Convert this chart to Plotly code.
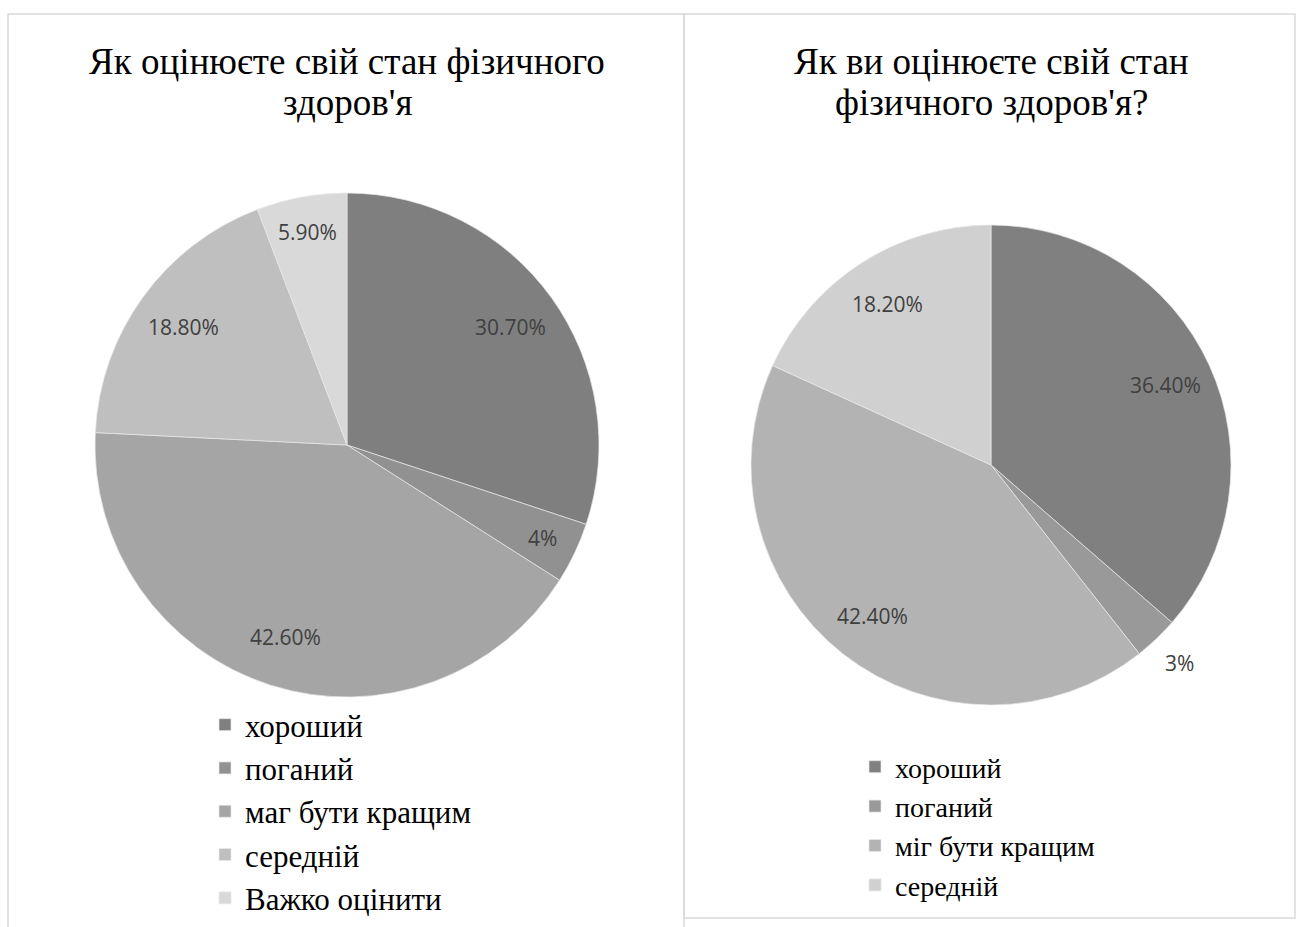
import math
import plotly.graph_objects as go

# ---- data ----
left_title = ["Як оцінюєте свій стан фізичного", "здоров'я"]
left_labels = ["хороший", "поганий", "маг бути кращим", "середній", "Важко оцінити"]
left_values = [30.7, 4.0, 42.6, 18.8, 5.9]
left_text = ["30.70%", "4%", "42.60%", "18.80%", "5.90%"]
left_colors = ["#7f7f7f", "#919191", "#a5a5a5", "#bfbfbf", "#d9d9d9"]

right_title = ["Як ви оцінюєте свій стан", "фізичного здоров'я?"]
right_labels = ["хороший", "поганий", "міг бути кращим", "середній"]
right_values = [36.4, 3.0, 42.4, 18.2]
right_text = ["36.40%", "3%", "42.40%", "18.20%"]
right_colors = ["#808080", "#999999", "#b3b3b3", "#d0d0d0"]

W, H = 1298, 927
SERIF = "Liberation Serif, Times New Roman, serif"
SANS = "Open Sans, Noto Sans, sans-serif"

# pie geometry in pixels: centre x, centre y, radius
LEFT_PIE = (347, 445, 252)
RIGHT_PIE = (991, 465, 240)


def domain(cx, cy, r):
    return dict(x=[(cx - r) / W, (cx + r) / W],
                y=[1 - (cy + r) / H, 1 - (cy - r) / H])


def label_annotations(values, texts, cx, cy, r):
    """Put value labels on the bisector of each slice (clockwise from 12 o'clock)."""
    total = sum(values)
    anns = []
    cum = 0.0
    for v, t in zip(values, texts):
        mid = (cum + v / 2) / total * 2 * math.pi
        cum += v
        share = v / total
        if share < 0.035:
            k = 1.14          # tiny slice: label sits outside
        elif share < 0.07:
            k = 0.86
        else:
            k = 0.8
        px = cx + r * k * math.sin(mid)
        py = cy - r * k * math.cos(mid)
        anns.append(dict(x=px / W, y=1 - py / H, xref="paper", yref="paper",
                         xanchor="center", yanchor="middle",
                         text=t, showarrow=False,
                         font=dict(family=SANS, size=21, color="#404040")))
    return anns


fig = go.Figure()

fig.add_trace(go.Pie(
    labels=left_labels, values=left_values, sort=False,
    direction="clockwise", rotation=0,
    marker=dict(colors=left_colors, line=dict(color="#e8e8e8", width=0.7)),
    textinfo="none", hoverinfo="label+value",
    domain=domain(*LEFT_PIE), legend="legend",
))
# zero-width space keeps the right legend entries separate from the left ones
fig.add_trace(go.Pie(
    labels=[l + "\u200b" for l in right_labels], values=right_values, sort=False,
    direction="clockwise", rotation=0,
    marker=dict(colors=right_colors, line=dict(color="#e8e8e8", width=0.7)),
    textinfo="none", hoverinfo="label+value",
    domain=domain(*RIGHT_PIE), legend="legend2",
))

annotations = []
annotations += label_annotations(left_values, left_text, *LEFT_PIE)
annotations += label_annotations(right_values, right_text, *RIGHT_PIE)

# chart titles, one annotation per line to keep the tight line spacing
for lines, cx in [(left_title, 347), (right_title, 991)]:
    for i, txt in enumerate(lines):
        annotations.append(dict(x=cx / W, y=1 - (62 + 40 * i) / H,
                                xref="paper", yref="paper",
                                xanchor="center", yanchor="middle", text=txt,
                                showarrow=False,
                                font=dict(family=SERIF, size=37, color="#000000")))

# panel borders
shapes = [
    dict(type="rect", xref="paper", yref="paper",
         x0=8 / W, x1=684 / W, y0=-0.02, y1=1 - 14 / H,
         line=dict(color="#d9d9d9", width=1.5)),
    dict(type="rect", xref="paper", yref="paper",
         x0=684 / W, x1=1295 / W, y0=1 - 918 / H, y1=1 - 14 / H,
         line=dict(color="#d9d9d9", width=1.5)),
]

fig.update_layout(
    width=W, height=H,
    margin=dict(l=0, r=0, t=0, b=0),
    paper_bgcolor="white", plot_bgcolor="white",
    annotations=annotations, shapes=shapes,
    legend=dict(x=205 / W, y=1 - 698 / H, xanchor="left", yanchor="top",
                font=dict(family=SERIF, size=31, color="#000000"),
                bgcolor="rgba(0,0,0,0)", traceorder="normal"),
    legend2=dict(x=855 / W, y=1 - 742 / H, xanchor="left", yanchor="top",
                 font=dict(family=SERIF, size=28, color="#000000"),
                 bgcolor="rgba(0,0,0,0)", traceorder="normal"),
)

fig.write_html("out.html", config={"displayModeBar": False},
               post_script="document.body.style.margin='0';")
